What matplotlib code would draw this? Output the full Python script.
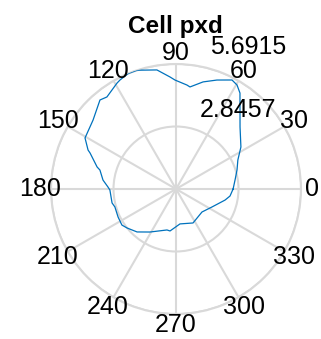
import numpy as np
import matplotlib
matplotlib.use('Agg')
import matplotlib.pyplot as plt

plt.rcParams['font.family'] = ['Liberation Sans', 'DejaVu Sans']

title = 'Cell pxd'
# angle (deg) and radius
theta_deg = [0, 8.7, 17.3, 25.1, 32.9, 44.1, 51, 56.3, 59.6, 62.8, 69.4, 75.8, 82.2, 84,
             90.5, 93.1, 99.1, 108.1, 112.5, 117.2, 119.1, 126.9, 130.5, 140.3, 150.7,
             156.1, 157.3, 164.4, 166, 173, 178.3, 180.9, 192.3, 196.4, 205.8, 213.7,
             218.5, 227.8, 238.8, 257.6, 261.9, 276.5, 296.6, 318.5, 333.4, 347.3, 352.6]
radius = [2.60, 2.72, 2.91, 3.11, 3.52, 4.06, 4.63, 5.25, 5.49, 5.58, 5.30, 5.03, 4.69, 4.76,
          4.96, 5.11, 5.49, 5.69, 5.69, 5.58, 5.52, 5.24, 5.33, 4.91, 4.75,
          4.38, 4.24, 3.73, 3.57, 3.35, 3.10, 3.01, 2.98, 2.90, 2.93, 2.96,
          2.85, 2.64, 2.29, 1.91, 1.93, 1.60, 1.73, 1.58, 1.83, 2.29, 2.48]
rticks = [2.8457, 5.6915]
rtick_labels = ['2.8457', '5.6915']
angle_ticks = list(range(0, 360, 30))

rmax = rticks[-1]
gridc = '#d9d9d9'

fig = plt.figure(figsize=(3.21, 3.39), dpi=100)
ax = fig.add_axes([51 / 321, 25 / 339, 250 / 321, 250 / 339], projection='polar')

th = np.deg2rad(theta_deg + [theta_deg[0]])
rr = radius + [radius[0]]
ax.plot(th, rr, color=(0, 0.447, 0.741), lw=0.9, zorder=3)

ax.set_ylim(0, rmax)
ax.set_thetagrids(angle_ticks, labels=[])
ax.set_rgrids(rticks, labels=[])
ax.grid(True, color=gridc, lw=1.5)
ax.spines['polar'].set_color(gridc)
ax.spines['polar'].set_linewidth(1.5)
ax.set_axisbelow(True)
ax.tick_params(length=0)

# angle labels outside the circle
for a in angle_ticks:
    ax.text(np.deg2rad(a), rmax * 1.09, str(a), ha='center', va='center',
            fontsize=18, clip_on=False)

# radius labels
ax.text(np.deg2rad(52), 4.55, rtick_labels[0], ha='center', va='center', fontsize=18, clip_on=False)
ax.text(np.deg2rad(63), 7.24, rtick_labels[1], ha='center', va='center', fontsize=18, clip_on=False)

fig.text(175 / 321, 1 - 33 / 339, title, ha='center', va='baseline', fontsize=17.5, fontweight='bold')

fig.savefig('out.png', dpi=100)
